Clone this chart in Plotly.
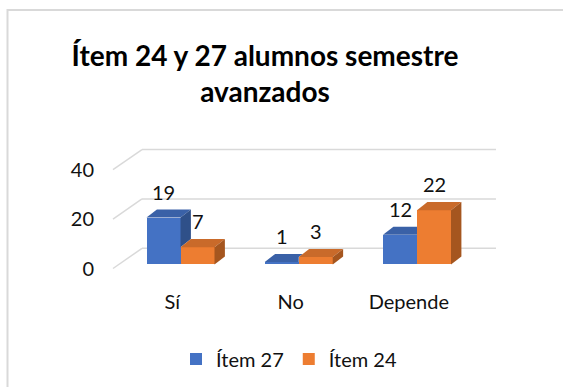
import plotly.graph_objects as go

# Survey answers per response category
categories = ["Sí", "No", "Depende"]
item27 = [19, 1, 12]
item24 = [7, 3, 22]
axis_ticks = [0, 20, 40]

series_names = ["Ítem 27", "Ítem 24"]
front_colors = ["#4472C4", "#ED7D31"]
top_colors = ["#3A61A7", "#C96A2A"]
side_colors = ["#2F5089", "#A5561F"]

FONT = "Lato"
GRID = "#D9D9D9"

# Pseudo-3D geometry (oblique projection), in data units
DEPTH_X, DEPTH_Y = 0.2452, 8.163      # full floor depth
BAR_D0 = 0.2                          # depth fraction of the bar fronts
OX, OY = 0.088, 3.27                  # bar thickness offset
BAR_W = 0.2875
BASE = BAR_D0 * DEPTH_Y
SHIFT = BAR_D0 * DEPTH_X
FLOOR_LEFT = -0.5218
WALL_RIGHT = 2.717

# Plot-area placement
L, R, T, B = 95, 58, 125, 102
W_PX, H_PX = 563, 387
PX_PER_X, X0_PX = 118.25, 174.7
PX_PER_Y, Y0_PX = 2.47, 268.5
x_range = [(L - X0_PX) / PX_PER_X, (W_PX - R - X0_PX) / PX_PER_X]
y_range = [(Y0_PX - (H_PX - B)) / PX_PER_Y, (Y0_PX - T) / PX_PER_Y]
plot_w = W_PX - L - R
plot_h = H_PX - T - B

fig = go.Figure()

# Front faces as bars
for s, vals in enumerate([item27, item24]):
    centers = [i + SHIFT + (s - 0.5) * BAR_W for i in range(len(categories))]
    fig.add_trace(go.Bar(
        x=centers, y=vals, base=[BASE] * len(vals), width=BAR_W,
        name=series_names[s], marker=dict(color=front_colors[s], line=dict(width=0)),
        hoverinfo="skip",
    ))


def face(xs, ys, color):
    fig.add_trace(go.Scatter(
        x=xs + [xs[0]], y=ys + [ys[0]], mode="lines", fill="toself",
        fillcolor=color, line=dict(width=0, color=color),
        showlegend=False, hoverinfo="skip",
    ))


for i, (b, o) in enumerate(zip(item27, item24)):
    xm = i + SHIFT
    tb, to = BASE + b, BASE + o
    # first series (left bar): top face, clipped by the neighbouring bar
    xl, xr = xm - BAR_W, xm
    if b >= o:
        face([xl, xr, xr + OX, xl + OX], [tb, tb, tb + OY, tb + OY], top_colors[0])
        face([xr, xr, xr + OX, xr + OX], [to, tb, tb + OY, to + OY], side_colors[0])
    else:
        if to < tb + OY:
            xs = [xl, xr, xr, xr + OX * (tb + OY - to) / OY, xl + OX]
            ys = [tb, tb, to, tb + OY, tb + OY]
        else:
            xs = [xl, xr, xr, xl + OX]
            ys = [tb, tb, tb + OY, tb + OY]
        face(xs, ys, top_colors[0])
    # second series (right bar): top and side faces
    xl, xr = xm, xm + BAR_W
    face([xl, xr, xr + OX, xl + OX], [to, to, to + OY, to + OY], top_colors[1])
    face([xr, xr, xr + OX, xr + OX], [BASE, to, to + OY, BASE + OY], side_colors[1])

# Back wall gridlines and floor diagonals
shapes = []
for v in axis_ticks:
    shapes.append(dict(type="line", xref="x", yref="y", layer="below",
                       x0=FLOOR_LEFT, y0=v, x1=FLOOR_LEFT + DEPTH_X, y1=v + DEPTH_Y,
                       line=dict(color=GRID, width=1.5)))
    shapes.append(dict(type="line", xref="x", yref="y", layer="below",
                       x0=FLOOR_LEFT + DEPTH_X, y0=v + DEPTH_Y, x1=WALL_RIGHT, y1=v + DEPTH_Y,
                       line=dict(color=GRID, width=1.5)))

# Chart-area border
shapes.append(dict(type="rect", xref="paper", yref="paper", layer="below",
                   x0=(7.5 - L) / plot_w, x1=(620 - L) / plot_w,
                   y0=((H_PX - B) - 420) / plot_h, y1=((H_PX - B) - 10) / plot_h,
                   line=dict(color=GRID, width=2), fillcolor="rgba(0,0,0,0)"))

# Value labels
annotations = []
for s, vals in enumerate([item27, item24]):
    for i, v in enumerate(vals):
        annotations.append(dict(
            x=i + SHIFT + (s - 0.5) * BAR_W, y=BASE + v, xref="x", yref="y",
            text=str(v), showarrow=False, yshift=26, yanchor="middle",
            font=dict(family=FONT, size=20, color="#111111"),
        ))

fig.update_layout(
    width=W_PX, height=H_PX, autosize=False,
    margin=dict(l=L, r=R, t=T, b=B, autoexpand=False),
    paper_bgcolor="white", plot_bgcolor="white",
    barmode="overlay", bargap=0,
    shapes=shapes, annotations=annotations,
    title=dict(
        text="<b>Ítem 24 y 27 alumnos semestre<br>avanzados</b>",
        xref="container", yref="container", x=265 / W_PX, y=1 - 66 / H_PX,
        xanchor="center", yanchor="middle",
        font=dict(family=FONT, size=28, color="#000000"),
    ),
    xaxis=dict(range=x_range, showgrid=False, zeroline=False, showline=False,
               tickvals=[i - 0.02 for i in range(len(categories))], ticktext=categories,
               ticklabelstandoff=3,
               tickfont=dict(family=FONT, size=20, color="#111111"), fixedrange=True),
    yaxis=dict(range=y_range, showgrid=False, zeroline=False, showline=False,
               tickvals=axis_ticks, tickfont=dict(family=FONT, size=20, color="#111111"),
               fixedrange=True),
    legend=dict(orientation="h", x=(289 - L) / plot_w, xanchor="center",
                y=((H_PX - B) - 359) / plot_h, yanchor="middle",
                font=dict(family=FONT, size=20, color="#111111"),
                bgcolor="rgba(0,0,0,0)"),
    showlegend=True,
)

fig.write_html("out.html")
